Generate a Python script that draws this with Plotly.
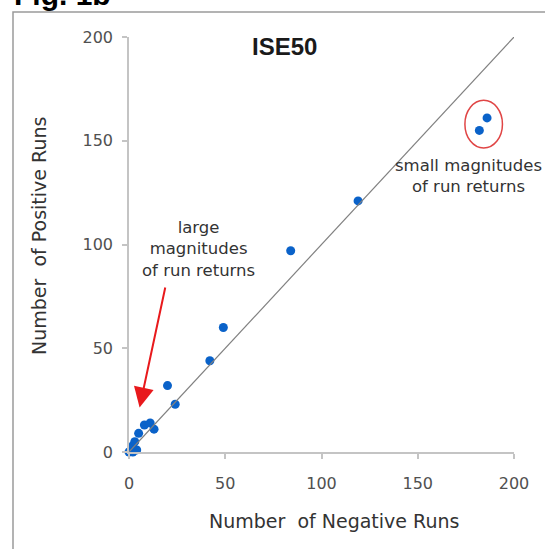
import plotly.graph_objects as go

# Number of negative / positive runs per series (ISE50)
neg_runs = [0, 1, 2, 3, 4, 2, 3, 5, 8, 11, 13, 20, 24, 42, 49, 84, 119, 182, 186]
pos_runs = [0, 1, 0, 1, 1, 3, 5, 9, 13, 14, 11, 32, 23, 44, 60, 97, 121, 155, 161]

tick_vals = [0, 50, 100, 150, 200]
tick_text = ["0", "50", "100", "150", "200"]

W, H = 545, 549
L, R, T, B = 129, 31, 37, 97
PW, PH = W - L - R, H - T - B


def px(x):
    return (x - L) / PW


def py(y):
    return (H - B - y) / PH


FONT = "DejaVu Sans"

fig = go.Figure()

fig.add_trace(go.Scatter(
    x=neg_runs, y=pos_runs, mode="markers",
    marker=dict(color="#0a62c9", size=9, line=dict(width=0)),
    cliponaxis=False, showlegend=False,
))

axis_common = dict(
    range=[0, 200], tickvals=tick_vals, ticktext=tick_text,
    showgrid=False, zeroline=False, showline=True,
    linecolor="#c4c4c4", linewidth=1.5,
    ticks="outside", ticklen=5, tickcolor="#c4c4c4", tickwidth=1.5,
    tickfont=dict(family=FONT, size=16, color="#505050"),
)

fig.update_layout(
    width=W, height=H,
    margin=dict(l=L, r=R, t=T, b=B),
    paper_bgcolor="white", plot_bgcolor="white",
    xaxis=dict(**axis_common, ticklabelstandoff=11),
    yaxis=dict(**axis_common, ticklabelstandoff=6),
    showlegend=False,
)

shapes = [
    # y = x reference line
    dict(type="line", xref="x", yref="y", x0=0, y0=0, x1=200, y1=200,
         line=dict(color="#808080", width=1.2)),
    # ellipse around the two high-run points
    dict(type="circle", xref="x", yref="y", x0=174.5, x1=194, y0=146.5, y1=169.5,
         line=dict(color="#e04545", width=1.5)),
    # frame
    dict(type="rect", xref="paper", yref="paper",
         x0=px(13), x1=px(560), y0=py(570), y1=py(12),
         line=dict(color="#9a9a9a", width=1.5)),
]
fig.update_layout(shapes=shapes)

annotations = [
    dict(text="<b>Fig. 1b</b>", xref="paper", yref="paper", x=px(12), y=py(13),
         xanchor="left", yanchor="bottom", showarrow=False,
         font=dict(family="Liberation Sans", size=30, color="black")),
    dict(text="<b>ISE50</b>", xref="paper", yref="paper", x=px(284), y=py(46),
         xanchor="center", yanchor="middle", showarrow=False,
         font=dict(family="Liberation Sans", size=24, color="#1a1a1a")),
    dict(text="Number  of Negative Runs", xref="paper", yref="paper",
         x=px(334), y=py(521), xanchor="center", yanchor="middle", showarrow=False,
         font=dict(family=FONT, size=19, color="#333333")),
    dict(text="Number  of Positive Runs", xref="paper", yref="paper",
         x=px(39), y=py(236), xanchor="center", yanchor="middle", showarrow=False,
         textangle=-90, font=dict(family=FONT, size=19, color="#333333")),
    dict(text="large<br>magnitudes<br>of run returns", xref="x", yref="y",
         x=36, y=98, xanchor="center", yanchor="middle", showarrow=False,
         font=dict(family=FONT, size=16.5, color="#333333")),
    dict(text="small magnitudes<br>of run returns", xref="x", yref="y",
         x=176.5, y=133, xanchor="center", yanchor="middle", showarrow=False,
         font=dict(family=FONT, size=16.5, color="#333333")),
    # arrow pointing at the cluster near the origin
    dict(text="", xref="x", yref="y", axref="x", ayref="y",
         x=5.5, y=21.5, ax=19, ay=80, showarrow=True,
         arrowhead=2, arrowsize=2, arrowwidth=2, arrowcolor="#e8191c"),
]
fig.update_layout(annotations=annotations)

fig.write_html("out.html")
